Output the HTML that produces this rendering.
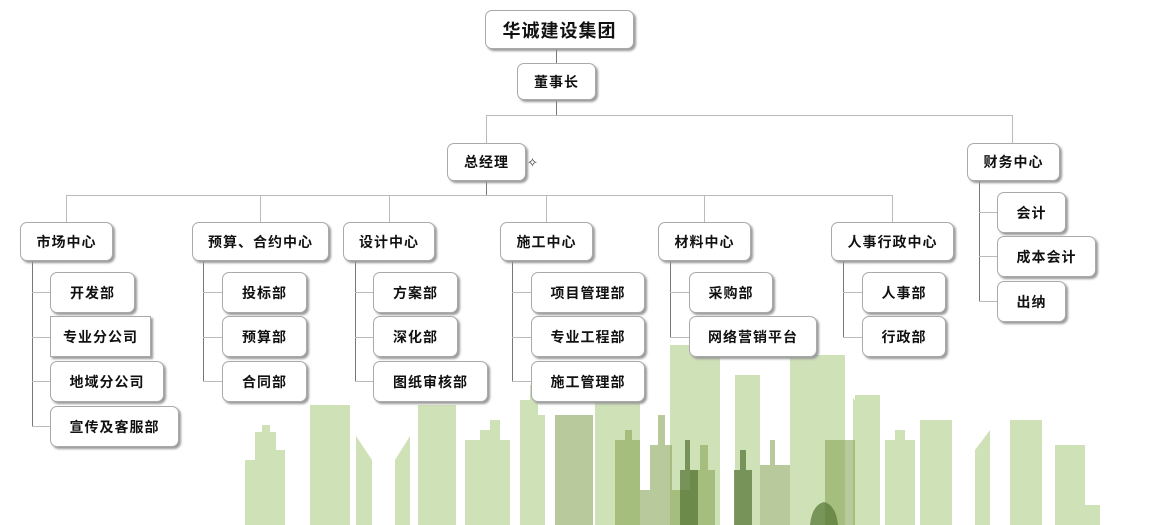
<!DOCTYPE html>
<html><head><meta charset="utf-8"><style>
body{margin:0;width:1163px;height:525px;background:#fff;position:relative;overflow:hidden;font-family:"Liberation Sans","Noto Sans CJK SC",sans-serif}
.b{position:absolute;background:#fff;border:1px solid #aaa;border-radius:7px;box-shadow:2px 2px 2px #999;display:flex;align-items:center;justify-content:center;font-weight:bold;font-size:14px;color:#111;box-sizing:border-box;letter-spacing:1px}
.sq{border-radius:0}
.h{position:absolute;height:1px;background:#bbb}
.v{position:absolute;width:1px;background:#777}
svg{position:absolute;left:0;top:0}
</style></head><body>
<svg width="1163" height="525">
<g fill="#a8c97c" opacity="0.55">
<polygon points="245,525 245,460 255,460 255,432 262,432 262,425 270,425 270,432 276,432 276,450 285,450 285,525"/>
<rect x="310" y="405" width="40" height="120"/>
<polygon points="356,436 372,460 372,525 356,525"/>
<polygon points="395,460 410,436 410,525 395,525"/>
<rect x="418" y="405" width="38" height="120"/>
<polygon points="465,525 465,440 480,440 480,430 490,430 490,420 500,420 500,440 510,440 510,525"/>
<polygon points="520,525 520,400 530,400 530,385 538,385 538,415 545,415 545,525"/>
<rect x="595" y="395" width="45" height="130"/>
<rect x="670" y="345" width="50" height="180"/>
<rect x="735" y="375" width="25" height="150"/>
<rect x="790" y="355" width="55" height="170"/>
<rect x="855" y="395" width="25" height="130"/>
<polygon points="853,398 880,430 880,525 853,525"/>
<polygon points="885,525 885,440 895,440 895,430 905,430 905,440 915,440 915,525"/>
<rect x="920" y="420" width="32" height="105"/>
<polygon points="975,525 975,450 990,430 990,525"/>
<rect x="1010" y="420" width="32" height="105"/>
<rect x="1055" y="445" width="30" height="80"/>
<rect x="1060" y="505" width="40" height="20"/>
</g>
<g fill="#8aa85a" opacity="0.6">
<rect x="555" y="415" width="38" height="110"/>
<polygon points="615,525 615,440 625,440 625,430 632,430 632,440 640,440 640,525"/>
<polygon points="650,525 650,445 658,445 658,415 665,415 665,445 672,445 672,525"/>
<polygon points="640,525 640,490 700,490 700,525"/>
<polygon points="690,525 690,470 700,470 700,445 708,445 708,470 715,470 715,525"/>
<rect x="825" y="440" width="30" height="85"/>
<polygon points="760,525 760,465 770,465 770,440 775,440 775,465 790,465 790,525"/>
</g>
<g fill="#5a7a3a" opacity="0.75">
<polygon points="680,525 680,470 685,470 685,440 690,440 690,470 698,470 698,525"/>
<polygon points="734,525 734,470 740,470 740,450 746,450 746,470 752,470 752,525"/>
<path d="M810,525 Q812,505 824,502 Q836,505 838,525Z"/>
</g>
</svg>
<div class="v" style="left:556px;top:48px;height:15px"></div>
<div class="v" style="left:556px;top:99px;height:16px"></div>
<div class="h" style="left:486px;top:115px;width:527px"></div>
<div class="v" style="left:486px;top:115px;height:28px;background:#bbb"></div>
<div class="v" style="left:1012px;top:115px;height:28px;background:#bbb"></div>
<div class="v" style="left:486px;top:180px;height:15px"></div>
<div class="h" style="left:66px;top:195px;width:827px"></div>
<div class="v" style="left:66px;top:195px;height:27px;background:#bbb"></div>
<div class="v" style="left:260px;top:195px;height:27px;background:#bbb"></div>
<div class="v" style="left:389px;top:195px;height:27px;background:#bbb"></div>
<div class="v" style="left:546px;top:195px;height:27px;background:#bbb"></div>
<div class="v" style="left:704px;top:195px;height:27px;background:#bbb"></div>
<div class="v" style="left:892px;top:195px;height:27px;background:#bbb"></div>

<div class="v" style="left:32px;top:260px;height:166px"></div>
<div class="h" style="left:32px;top:292px;width:18px"></div><div class="h" style="left:32px;top:337px;width:18px"></div><div class="h" style="left:32px;top:381px;width:18px"></div><div class="h" style="left:32px;top:426px;width:18px"></div>
<div class="v" style="left:203px;top:260px;height:121px"></div>
<div class="h" style="left:203px;top:292px;width:19px"></div><div class="h" style="left:203px;top:337px;width:19px"></div><div class="h" style="left:203px;top:381px;width:19px"></div>
<div class="v" style="left:355px;top:260px;height:121px"></div>
<div class="h" style="left:355px;top:292px;width:18px"></div><div class="h" style="left:355px;top:337px;width:18px"></div><div class="h" style="left:355px;top:381px;width:18px"></div>
<div class="v" style="left:512px;top:260px;height:121px"></div>
<div class="h" style="left:512px;top:292px;width:19px"></div><div class="h" style="left:512px;top:337px;width:19px"></div><div class="h" style="left:512px;top:381px;width:19px"></div>
<div class="v" style="left:670px;top:260px;height:77px"></div>
<div class="h" style="left:670px;top:292px;width:19px"></div><div class="h" style="left:670px;top:337px;width:19px"></div>
<div class="v" style="left:843px;top:260px;height:77px"></div>
<div class="h" style="left:843px;top:292px;width:19px"></div><div class="h" style="left:843px;top:337px;width:19px"></div>
<div class="v" style="left:979px;top:180px;height:121px"></div>
<div class="h" style="left:979px;top:212px;width:18px"></div><div class="h" style="left:979px;top:256px;width:18px"></div><div class="h" style="left:979px;top:301px;width:18px"></div>

<div class="b" style="left:485px;top:10px;width:149px;height:39px;font-size:18px">华诚建设集团</div>
<div class="b" style="left:517px;top:63px;width:79px;height:37px">董事长</div>
<div class="b" style="left:447px;top:143px;width:79px;height:38px">总经理</div>
<div style="position:absolute;left:527px;top:155px;font-size:13px;color:#333">✧</div>
<div class="b" style="left:967px;top:143px;width:93px;height:38px">财务中心</div>

<div class="b" style="left:20px;top:222px;width:93px;height:39px">市场中心</div>
<div class="b" style="left:192px;top:222px;width:137px;height:39px">预算、合约中心</div>
<div class="b" style="left:343px;top:222px;width:92px;height:39px">设计中心</div>
<div class="b" style="left:500px;top:222px;width:93px;height:39px">施工中心</div>
<div class="b" style="left:658px;top:222px;width:93px;height:39px">材料中心</div>
<div class="b" style="left:831px;top:222px;width:123px;height:39px">人事行政中心</div>

<div class="b" style="left:50px;top:272px;width:85px;height:41px">开发部</div>
<div class="b sq" style="left:50px;top:316px;width:101px;height:41px">专业分公司</div>
<div class="b" style="left:50px;top:361px;width:114px;height:41px">地域分公司</div>
<div class="b" style="left:50px;top:406px;width:129px;height:41px">宣传及客服部</div>

<div class="b" style="left:222px;top:272px;width:85px;height:41px">投标部</div>
<div class="b" style="left:222px;top:316px;width:85px;height:41px">预算部</div>
<div class="b" style="left:222px;top:361px;width:85px;height:41px">合同部</div>

<div class="b" style="left:373px;top:272px;width:85px;height:41px">方案部</div>
<div class="b" style="left:373px;top:316px;width:85px;height:41px">深化部</div>
<div class="b" style="left:373px;top:361px;width:115px;height:41px">图纸审核部</div>

<div class="b" style="left:531px;top:272px;width:114px;height:41px">项目管理部</div>
<div class="b" style="left:531px;top:316px;width:114px;height:41px">专业工程部</div>
<div class="b" style="left:531px;top:361px;width:114px;height:41px">施工管理部</div>

<div class="b" style="left:689px;top:272px;width:84px;height:41px">采购部</div>
<div class="b" style="left:689px;top:316px;width:128px;height:41px">网络营销平台</div>

<div class="b" style="left:862px;top:272px;width:84px;height:41px">人事部</div>
<div class="b" style="left:862px;top:316px;width:84px;height:41px">行政部</div>

<div class="b" style="left:997px;top:192px;width:69px;height:41px">会计</div>
<div class="b" style="left:997px;top:236px;width:99px;height:41px">成本会计</div>
<div class="b" style="left:997px;top:281px;width:69px;height:41px">出纳</div>
</body></html>
